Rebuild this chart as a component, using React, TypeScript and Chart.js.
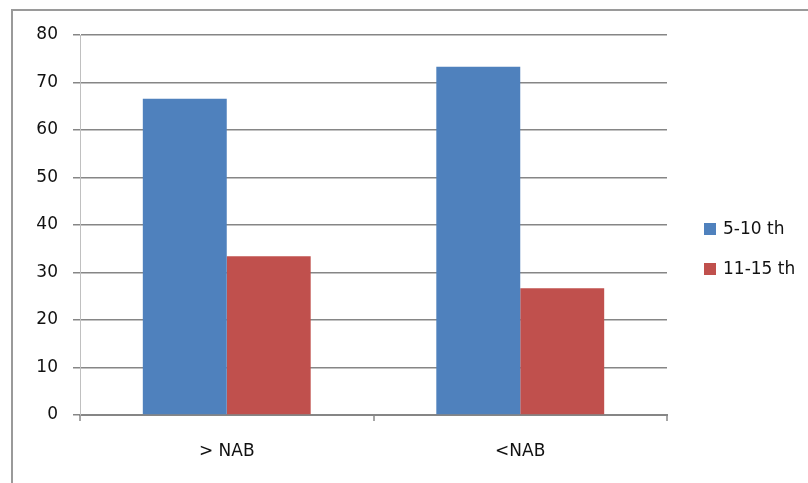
import React, { useEffect, useRef } from "react";
import { Chart, registerables } from "chart.js";

Chart.register(...registerables);

const categories = ["> NAB", "<NAB"];
const seriesNames = ["5-10 th", "11-15 th"];
const series510 = [66.6, 73.3];
const series1115 = [33.4, 26.7];
const yTicks = { min: 0, max: 80, step: 10 };
const colors = ["#4F81BD", "#C0504D"];

const FONT = "'DejaVu Sans', sans-serif";

const framePlugin = {
  id: "frame",
  beforeDraw(chart: any) {
    const ctx = chart.ctx;
    ctx.save();
    ctx.fillStyle = "#ffffff";
    ctx.fillRect(0, 0, chart.width, chart.height);
    ctx.strokeStyle = "#9a9a9a";
    ctx.lineWidth = 2;
    ctx.beginPath();
    ctx.moveTo(12, chart.height);
    ctx.lineTo(12, 10);
    ctx.lineTo(chart.width, 10);
    ctx.stroke();
    ctx.restore();
  },
};

const legendPlugin = {
  id: "customLegend",
  afterDraw(chart: any) {
    const ctx = chart.ctx;
    ctx.save();
    ctx.font = `17px ${FONT}`;
    ctx.textBaseline = "middle";
    ctx.textAlign = "left";
    chart.data.datasets.forEach((ds: any, i: number) => {
      const cy = 229 + i * 40;
      ctx.fillStyle = ds.backgroundColor;
      ctx.fillRect(704, cy - 6, 12, 12);
      ctx.fillStyle = "#111111";
      ctx.fillText(ds.label, 723, cy + 1);
    });
    ctx.restore();
  },
};

export default function App() {
  const ref = useRef<HTMLCanvasElement | null>(null);
  useEffect(() => {
    if (!ref.current) return;
    const chart = new Chart(ref.current, {
      type: "bar",
      data: {
        labels: categories,
        datasets: [
          { label: seriesNames[0], data: series510, backgroundColor: colors[0] },
          { label: seriesNames[1], data: series1115, backgroundColor: colors[1] },
        ],
      },
      options: {
        responsive: false,
        animation: false,
        devicePixelRatio: 1,
        layout: { padding: { left: 0, top: 35, right: 141, bottom: 0 } },
        datasets: { bar: { categoryPercentage: 0.572, barPercentage: 1 } },
        plugins: { legend: { display: false }, tooltip: { enabled: false } },
        scales: {
          x: {
            offset: true,
            grid: {
              offset: true,
              drawOnChartArea: false,
              tickLength: 6,
              color: "#a6a6a6",
              lineWidth: 2,
            },
            border: { color: "#868686", width: 2 },
            ticks: { color: "#111111", font: { family: FONT, size: 17 }, padding: 20 },
            afterFit(scale: any) {
              scale.height = 68;
            },
          },
          y: {
            min: yTicks.min,
            max: yTicks.max,
            ticks: {
              stepSize: yTicks.step,
              color: "#111111",
              font: { family: FONT, size: 17 },
              padding: 15,
            },
            grid: { color: "#868686", tickLength: 7, lineWidth: 1.5 },
            border: { color: "#c0c0c0", width: 1 },
            afterFit(scale: any) {
              scale.width = 80;
            },
          },
        },
      },
      plugins: [framePlugin, legendPlugin],
    } as any);
    return () => chart.destroy();
  }, []);
  return (
    <div style={{ position: "absolute", left: 0, top: 0, width: 808, height: 483 }}>
      <canvas ref={ref} width={808} height={483} style={{ width: 808, height: 483 }} />
    </div>
  );
}
